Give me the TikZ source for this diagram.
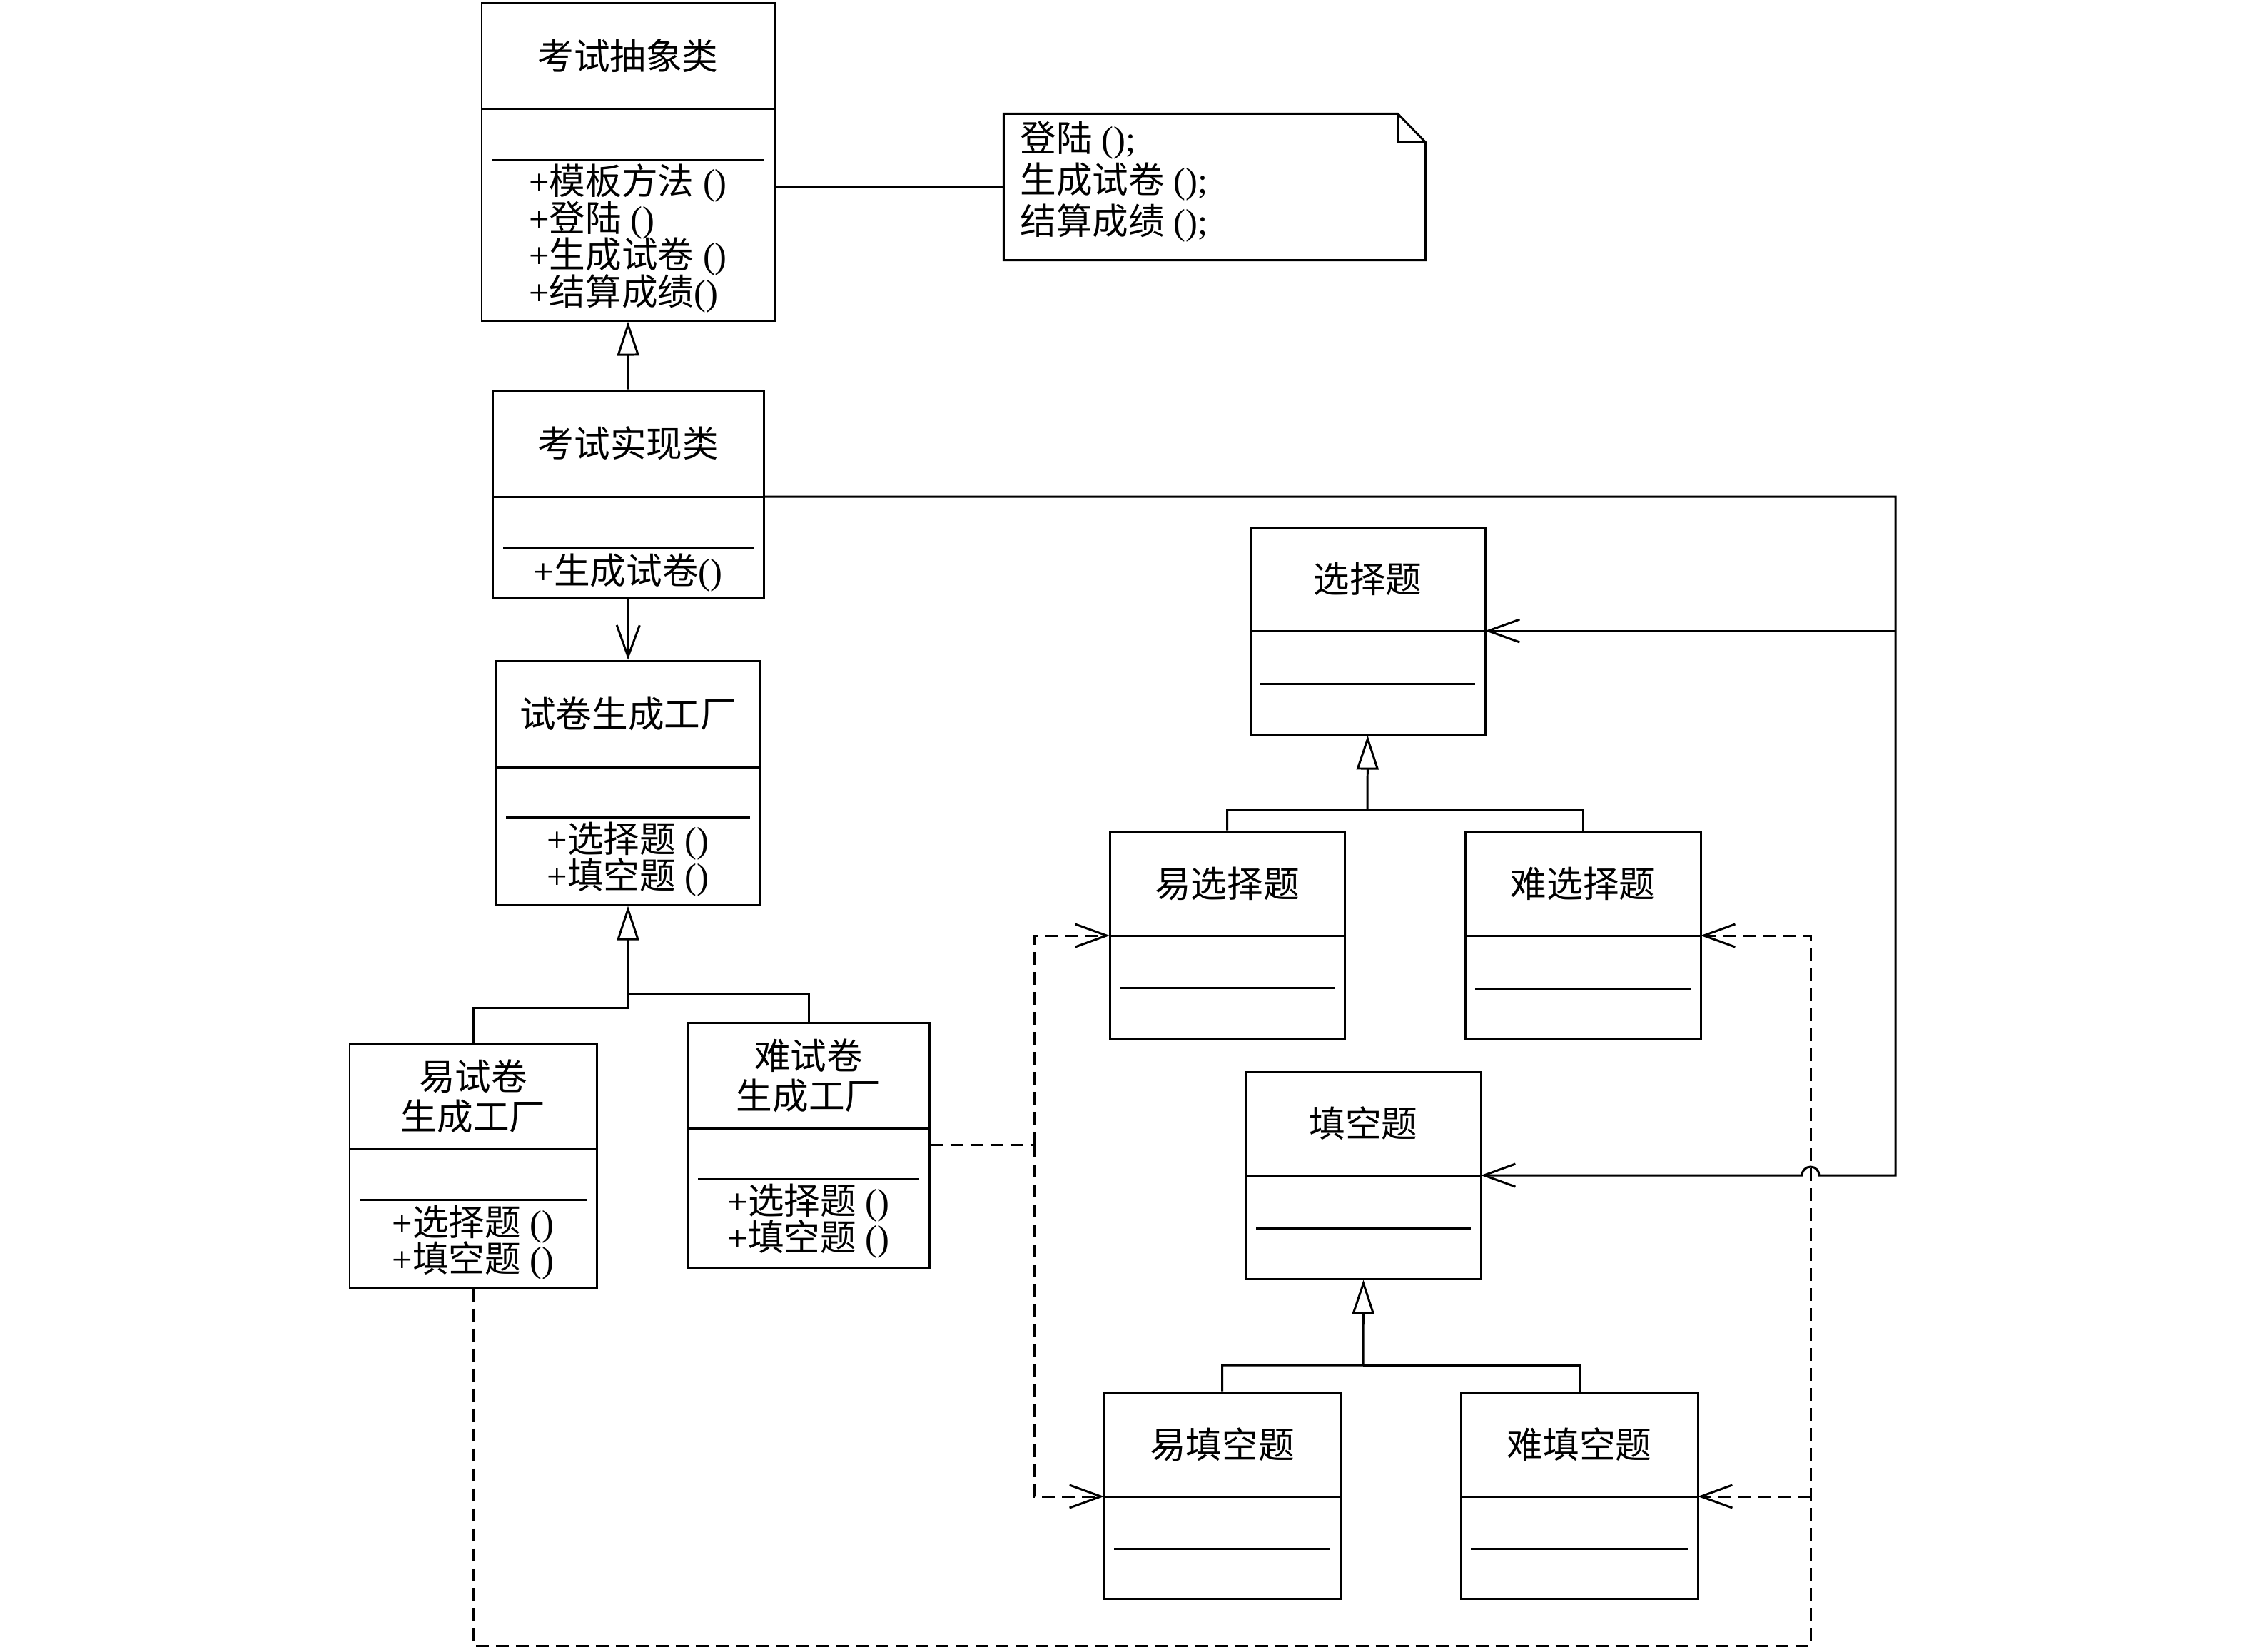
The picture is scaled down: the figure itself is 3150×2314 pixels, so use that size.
\documentclass[tikz,border=0pt]{standalone}
\usepackage{fontspec}
\setmainfont{Liberation Serif}
\newfontfamily\cjk{Noto Sans CJK SC}
\usetikzlibrary{arrows.meta,calc}

\newcommand\tightlines{\lineskiplimit=-20pt\relax}
\newcommand\umlbox[8]{%
  \pgfmathsetmacro\ubw{(#4-#2)*0.01}%
  \pgfmathsetmacro\ubh{(#5-#3)*0.01}%
  \node[box, minimum width=\ubw cm, minimum height=\ubh cm] (#1) at ({(#2+#4)/2},{(#3+#5)/2}) {};
  \coordinate (#1-dw) at (#2,#6);
  \coordinate (#1-de) at (#4,#6);
  \draw (#1-dw) -- (#1-de);
  \draw ({#2+14},#7) -- ({#4-14},#7);
  \node[ttl] (#1-t) at ({(#2+#4)/2},{(#3+#6)/2}) {#8};
}

\begin{document}
\begin{tikzpicture}[x=0.01cm,y=-0.01cm, line width=0.85pt,
  box/.style={draw, rectangle, inner sep=0pt},
  ttl/.style={font={\fontsize{14.4pt}{16pt}\selectfont\cjk\tightlines}, align=center, inner sep=0pt},
  meth/.style={font={\fontsize{14.4pt}{14.7pt}\selectfont\tightlines}, align=left, inner sep=0pt},
  gen/.style={-{Triangle[open,length=0.48cm,width=0.31cm]}},
  assoc/.style={-{Straight Barb[length=0.44cm,width=0.32cm]}},
  dep/.style={dash pattern=on 0.18cm off 0.1cm},
]
\useasboundingbox (0,0) rectangle (3150,2314);

% classes
\umlbox{abs}{675}{4}{1085}{449}{152}{224}{考试抽象类}
\node[meth] (abs-m) at (880,334) {+{\cjk 模板方法} ()\\+{\cjk 登陆} ()\\+{\cjk 生成试卷} ()\\+{\cjk 结算成绩}()};

\umlbox{impl}{691}{547}{1070}{838}{696}{767}{考试实现类}
\node[meth] (impl-m) at (880,803) {+{\cjk 生成试卷}()};

\umlbox{fac}{695}{926}{1065}{1268}{1075}{1145}{试卷生成工厂}
\node[meth] (fac-m) at (880,1204) {+{\cjk 选择题} ()\\+{\cjk 填空题} ()};

\umlbox{ef}{490}{1463}{836}{1804}{1610}{1681}{易试卷\\生成工厂}
\node[meth] (ef-m) at (663,1741) {+{\cjk 选择题} ()\\+{\cjk 填空题} ()};

\umlbox{hf}{964}{1433}{1302}{1776}{1581}{1652}{难试卷\\生成工厂}
\node[meth] (hf-m) at (1133,1711) {+{\cjk 选择题} ()\\+{\cjk 填空题} ()};

\umlbox{xz}{1752}{739}{2081}{1029}{884}{958}{选择题}
\umlbox{yxz}{1555}{1165}{1884}{1455}{1311}{1384}{易选择题}
\umlbox{nxz}{2053}{1165}{2383}{1455}{1311}{1385}{难选择题}
\umlbox{tk}{1746}{1502}{2075}{1792}{1647}{1721}{填空题}
\umlbox{ytk}{1547}{1951}{1878}{2240}{2097}{2170}{易填空题}
\umlbox{ntk}{2047}{1951}{2379}{2240}{2097}{2170}{难填空题}

% note
\node[minimum width=5.88cm, minimum height=2.02cm, inner sep=0pt] (note) at (1702,262) {};
\draw (note.north west) -- ([xshift=-0.39cm]note.north east) -- ([yshift=-0.40cm]note.north east)
      -- (note.south east) -- (note.south west) -- cycle;
\draw ([xshift=-0.39cm]note.north east) -- ([xshift=-0.39cm,yshift=-0.40cm]note.north east)
      -- ([yshift=-0.40cm]note.north east);
\node[meth, anchor=west, font={\fontsize{14.4pt}{16.5pt}\selectfont}] (note-t) at (1428,255)
  {{\cjk 登陆} ();\\{\cjk 生成试卷} ();\\{\cjk 结算成绩} ();};
\draw (abs.east |- note.west) -- (note.west);

% generalizations
\draw[gen] (impl.north) -- (abs.south);
\coordinate (fj1) at (880,1412);
\coordinate (fj2) at (880,1393);
\draw[gen] (ef.north) |- (fj1) -- (fac.south);
\draw (hf.north) |- (fj2);
\coordinate (xj) at (1916,1135);
\draw[gen] (yxz.north) |- (xj) -- (xz.south);
\draw (nxz.north) |- (xj);
\coordinate (tj) at (1910,1913);
\draw[gen] (ytk.north) |- (tj) -- (tk.south);
\draw (ntk.north) |- (tj);

% associations
\draw[assoc] (impl.south) -- (fac.north);
\coordinate (rt) at (2656,696);
\coordinate (dx) at (2537,2306);
\draw[assoc] (impl-de |- rt) -- (rt) -- (rt |- tk-de) -- ($(dx |- tk-de)+(12,0)$)
   arc[start angle=0, end angle=180, radius=0.12cm] -- (tk-de);
\draw[assoc] (rt |- xz-de) -- (xz-de);

% dependencies (dashed)
\coordinate (dj) at (1449,1604);
\draw[dep] (hf.east |- dj) -- (dj);
\draw[dep,assoc] (dj) |- (yxz-dw);
\draw[dep,assoc] (dj) |- (ytk-dw);
\draw[dep,assoc] (ef.south) |- (dx) |- (nxz-de);
\draw[dep,assoc] (dx |- ntk-de) -- (ntk-de);
\end{tikzpicture}
\end{document}
